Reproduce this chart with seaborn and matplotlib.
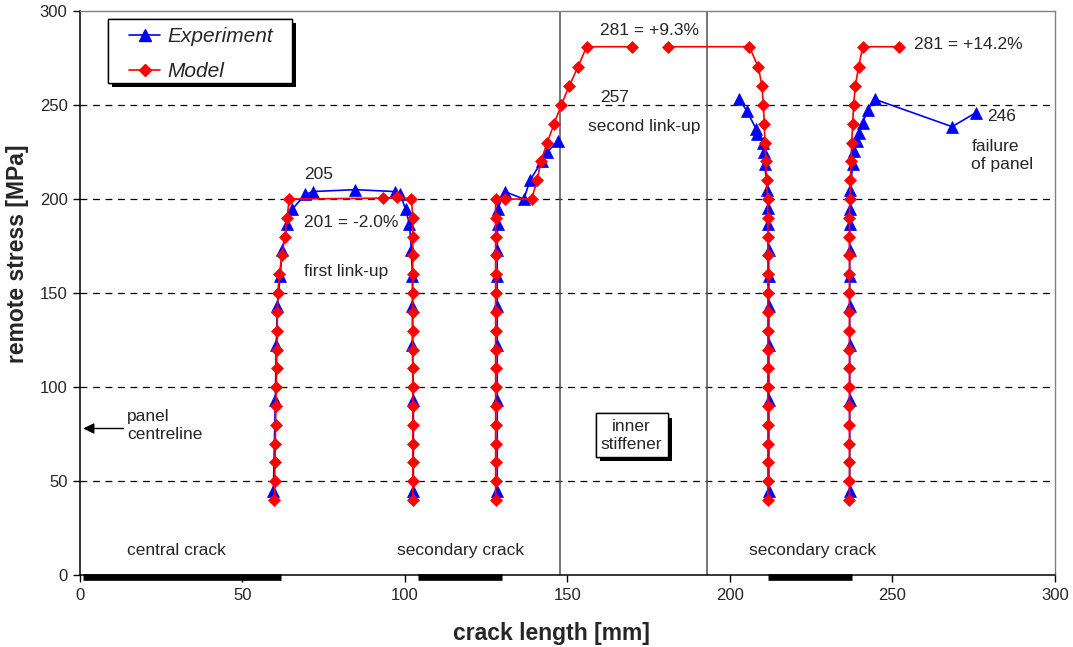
import numpy as np
import pandas as pd
import matplotlib
matplotlib.use("Agg")
import matplotlib.pyplot as plt
import matplotlib.patheffects as pe
from matplotlib.lines import Line2D
from matplotlib.patches import Rectangle
import seaborn as sns

# ---- measured crack-tip positions (experiment) ----
exp_a_x = [59.5, 60.1, 60.4, 60.7, 61.6, 62.2, 63.8, 65.3, 69.3, 71.8, 84.7,
           96.8, 98.6, 100.2, 101.4, 102.0, 102.3, 102.3, 102.3, 102.6, 102.6]
exp_a_s = [45, 93, 122.5, 143, 159, 173, 186.5, 194.5, 202.5, 204, 205,
           204, 202.5, 194.5, 186.5, 173, 159, 143, 122.5, 93, 45]

exp_b_x = [128.4, 128.4, 128.4, 128.4, 128.4, 128.4, 128.5, 128.5,
           130.7, 136.6, 138.5, 142.1, 143.8, 147.1]
exp_b_s = [45, 93, 122.5, 143, 159, 173, 186.5, 194.5,
           204, 200, 210, 220, 225, 231]

exp_c_x = [202.9, 205.2, 208.0, 208.5, 210.1, 210.6, 210.8, 211.4, 211.8,
           211.8, 211.9, 212.0, 212.0, 212.0, 212.0, 212.0]
exp_c_s = [253, 247, 237.5, 234.5, 230, 225, 218.5, 205, 195,
           186.5, 173, 159, 143, 122.5, 93, 45]

exp_d_x = [236.9, 236.9, 236.9, 236.9, 236.9, 236.9, 236.9, 236.9, 237.1,
           237.8, 238.3, 239.1, 239.8, 240.9, 242.4, 244.7, 268.4, 275.8]
exp_d_s = [45, 93, 122.5, 143, 159, 173, 186.5, 194.5, 205,
           218.5, 225.5, 231, 235, 240.5, 247.5, 253, 238.5, 246]

# ---- predicted crack-tip positions (model) ----
mod_a_x = [59.8, 59.9, 60.0, 60.1, 60.2, 60.3, 60.4, 60.5, 60.6, 60.7, 60.7,
           60.9, 61.3, 62.2, 63.0, 63.7, 64.4, 93.3, 97.6, 102.0,
           102.4, 102.4, 102.4, 102.4, 102.4, 102.4, 102.4, 102.4,
           102.4, 102.4, 102.4, 102.4, 102.4, 102.4, 102.4, 102.4]
mod_a_s = [40, 50, 60, 70, 80, 90, 100, 110, 120, 130, 140,
           150, 160, 170, 180, 190, 200, 200.5, 201, 200,
           190, 180, 170, 160, 150, 140, 130, 120,
           110, 100, 90, 80, 70, 60, 50, 40]

mod_b_x = [127.9, 127.9, 127.9, 127.9, 127.9, 127.9, 127.9, 127.9, 127.9,
           127.9, 127.9, 127.9, 127.9, 127.9, 127.9, 127.9, 127.9,
           130.8, 139.0, 140.7, 141.8, 143.8, 145.9, 148.1, 150.5, 153.2,
           155.9, 170.0]
mod_b_s = [40, 50, 60, 70, 80, 90, 100, 110, 120, 130, 140, 150, 160, 170,
           180, 190, 200, 200, 200, 210, 220, 230, 240, 250, 260, 270,
           281, 281]

mod_c_x = [181.1, 206.0, 208.8, 209.9, 210.3, 210.6, 210.8, 211.1, 211.3,
           211.6, 211.7, 211.7, 211.7, 211.7, 211.7, 211.7, 211.7, 211.7,
           211.7, 211.7, 211.7, 211.7, 211.7, 211.7, 211.7, 211.7]
mod_c_s = [281, 281, 270, 260, 250, 240, 230, 220, 210, 200, 190, 180, 170,
           160, 150, 140, 130, 120, 110, 100, 90, 80, 70, 60, 50, 40]

mod_d_x = [236.8, 236.8, 236.8, 236.8, 236.8, 236.8, 236.8, 236.8, 236.8,
           236.8, 236.8, 236.8, 236.8, 236.8, 236.8, 236.8, 236.9, 237.1,
           237.3, 237.5, 237.8, 238.1, 238.6, 239.6, 240.9, 252.2]
mod_d_s = [40, 50, 60, 70, 80, 90, 100, 110, 120, 130, 140, 150, 160, 170,
           180, 190, 200, 210, 220, 230, 240, 250, 260, 270, 281, 281]

# initial saw-cut cracks drawn along the axis
crack_start = [1.0, 104.0, 211.8]
crack_end = [62.0, 130.0, 237.6]
stiffener_x = [147.7, 192.9]

x_ticks = [0, 50, 100, 150, 200, 250, 300]
y_ticks = [0, 50, 100, 150, 200, 250, 300]


def frame(src, segs):
    rows = []
    for name, xs, ss in segs:
        for x, s in zip(xs, ss):
            rows.append({"crack": x, "stress": s, "tip": name, "source": src})
    return pd.DataFrame(rows)


exp_df = frame("Experiment", [("a", exp_a_x, exp_a_s), ("b", exp_b_x, exp_b_s),
                              ("c", exp_c_x, exp_c_s), ("d", exp_d_x, exp_d_s)])
mod_df = frame("Model", [("a", mod_a_x, mod_a_s), ("b", mod_b_x, mod_b_s),
                         ("c", mod_c_x, mod_c_s), ("d", mod_d_x, mod_d_s)])

sns.set_theme(style="ticks")
plt.rcParams["font.family"] = ["Liberation Sans", "DejaVu Sans"]

fig = plt.figure(figsize=(10.73, 6.47), dpi=100)
ax = fig.add_axes([0.0746, 0.111, 0.9084, 0.872])

BLUE = "#0000ff"
RED = "#ff0000"
shadow = [pe.withSimplePatchShadow(offset=(3, -3), shadow_rgbFace="black",
                                   alpha=1.0), pe.Normal()]

# horizontal dashed gridlines
for v in y_ticks[1:-1]:
    ax.axhline(v, color="black", lw=0.9, ls=(0, (5.5, 4.5)), zorder=1)
for v in stiffener_x:
    ax.axvline(v, color="#505050", lw=1.1, zorder=1)

sns.lineplot(data=exp_df, x="crack", y="stress", units="tip", estimator=None,
             sort=False, color=BLUE, lw=1.2, marker="^", markersize=8,
             markeredgecolor=BLUE, markeredgewidth=0.5, ax=ax, zorder=3)
sns.lineplot(data=mod_df, x="crack", y="stress", units="tip", estimator=None,
             sort=False, color=RED, lw=1.2, marker="D", markersize=6,
             markeredgecolor=RED, markeredgewidth=0.5, ax=ax, zorder=4)

for a, b in zip(crack_start, crack_end):
    ax.plot([a, b], [-0.9, -0.9], color="black", lw=4.8,
            solid_capstyle="butt", clip_on=False, zorder=6)

ax.set_xlim(0, 300)
ax.set_ylim(0, 300)
ax.set_xticks(x_ticks)
ax.set_yticks(y_ticks)
ax.tick_params(direction="out", length=5, width=1, color="black",
               labelsize=12, pad=4)
for side in ("left", "bottom"):
    ax.spines[side].set_color("black")
    ax.spines[side].set_linewidth(1.1)
for side in ("top", "right"):
    ax.spines[side].set_color("#808080")
    ax.spines[side].set_linewidth(1.0)

ax.set_xlabel("crack length [mm]", fontsize=16.5, fontweight="bold")
ax.set_ylabel("remote stress [MPa]", fontsize=16.5, fontweight="bold")
ax.xaxis.label.set_va("center")
ax.yaxis.label.set_va("center")
ax.xaxis.set_label_coords(0.484, -0.103)
ax.yaxis.set_label_coords(-0.064, 0.57)

fs = 12.5
ax.text(69.0, 213.3, "205", fontsize=fs, va="center", ha="left")
ax.text(69.0, 187.4, "201 = -2.0%", fontsize=fs, va="center", ha="left")
ax.text(69.0, 161.3, "first link-up", fontsize=fs, va="center", ha="left")
ax.text(160.0, 289.4, "281 = +9.3%", fontsize=fs, va="center", ha="left")
ax.text(160.0, 254.1, "257", fontsize=fs, va="center", ha="left")
ax.text(156.4, 238.8, "second link-up", fontsize=fs, va="center", ha="left")
ax.text(256.7, 282.0, "281 = +14.2%", fontsize=fs, va="center", ha="left")
ax.text(279.1, 243.8, "246", fontsize=fs, va="center", ha="left")
ax.text(274.3, 223.0, "failure\nof panel", fontsize=fs, va="center",
        ha="left", linespacing=1.25)
ax.text(14.4, 79.5, "panel\ncentreline", fontsize=fs, va="center",
        ha="left", linespacing=1.25)
ax.text(14.4, 13.3, "central crack", fontsize=fs, va="center", ha="left")
ax.text(117.0, 13.3, "secondary crack", fontsize=fs, va="center", ha="center")
ax.text(225.5, 13.3, "secondary crack", fontsize=fs, va="center", ha="center")

ax.annotate("", xy=(1.0, 78.0), xytext=(13.4, 78.0),
            arrowprops=dict(arrowstyle="-|>", color="black", lw=1.0,
                            mutation_scale=16, shrinkA=0, shrinkB=0))

box = ax.text(169.8, 74.5, "inner\nstiffener", fontsize=fs, va="center",
              ha="center", linespacing=1.25,
              bbox=dict(boxstyle="square,pad=0.3", fc="white", ec="black",
                        lw=1.0))
box.get_bbox_patch().set_path_effects(shadow)

# legend: framed box with a solid drop shadow
frame_box = Rectangle((0.0287, 0.8723), 0.1887, 0.1135, transform=ax.transAxes,
                      fc="white", ec="black", lw=1.0, zorder=9)
frame_box.set_path_effects(shadow)
ax.add_patch(frame_box)

handles = [
    Line2D([], [], color=BLUE, lw=1.2, marker="^", markersize=8,
           markeredgecolor=BLUE),
    Line2D([], [], color=RED, lw=1.2, marker="D", markersize=6,
           markeredgecolor=RED),
]
leg = ax.legend(handles, ["Experiment", "Model"], loc="upper left",
                bbox_to_anchor=(0.0503, 0.971), borderaxespad=0, borderpad=0,
                prop={"style": "italic", "size": 15}, frameon=False,
                handlelength=1.5, labelspacing=0.75, handletextpad=0.35)
leg.set_zorder(10)

fig.savefig("out.png", dpi=100)
